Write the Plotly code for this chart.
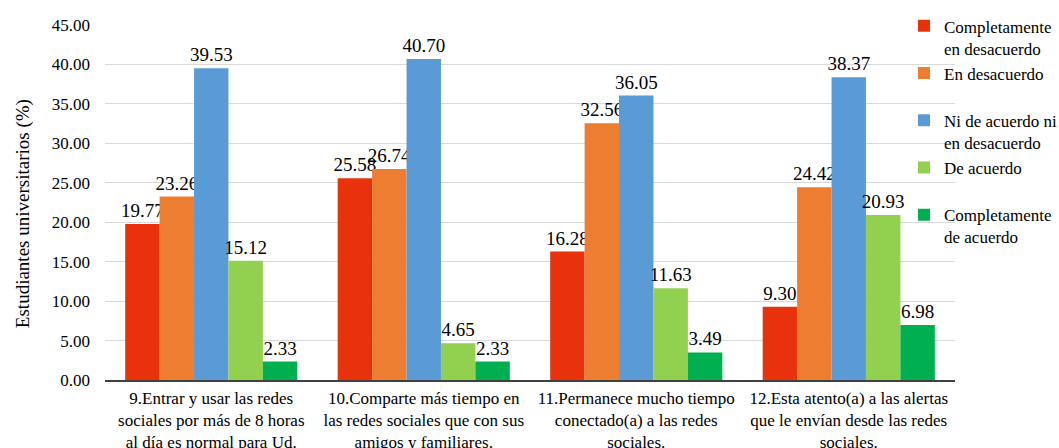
import plotly.graph_objects as go

categories = [
    "9.Entrar y usar las redes<br>sociales por más de 8 horas<br>al día es normal para Ud.",
    "10.Comparte más tiempo en<br>las redes sociales que con sus<br>amigos y familiares.",
    "11.Permanece mucho tiempo<br>conectado(a) a las redes<br>sociales.",
    "12.Esta atento(a) a las alertas<br>que le envían desde las redes<br>sociales.",
]
series_names = [
    "Completamente<br>en desacuerdo",
    "En desacuerdo<br>&nbsp;",
    "Ni de acuerdo ni<br>en desacuerdo",
    "De acuerdo<br>&nbsp;",
    "Completamente<br>de acuerdo",
]
completamente_desacuerdo = [19.77, 25.58, 16.28, 9.30]
en_desacuerdo = [23.26, 26.74, 32.56, 24.42]
ni_ni = [39.53, 40.70, 36.05, 38.37]
de_acuerdo = [15.12, 4.65, 11.63, 20.93]
completamente_acuerdo = [2.33, 2.33, 3.49, 6.98]
tick_vals = [0, 5, 10, 15, 20, 25, 30, 35, 40, 45]

values = [completamente_desacuerdo, en_desacuerdo, ni_ni, de_acuerdo, completamente_acuerdo]
colors = ["#E8320C", "#ED7D31", "#5B9BD5", "#92D050", "#00B050"]

font_family = "Liberation Serif"

fig = go.Figure()
for name, vals, col in zip(series_names, values, colors):
    fig.add_trace(go.Bar(
        x=categories, y=vals, name=name,
        marker=dict(color=col, line=dict(width=0)),
        texttemplate="%{y:.2f}", textposition="outside",
        constraintext="none",
        textfont=dict(size=19, color="#000000", family=font_family),
        cliponaxis=False, legendgroup=name,
    ))

fig.update_layout(
    template="none",
    width=1059, height=448,
    barmode="group", bargap=0.19, bargroupgap=0,
    plot_bgcolor="white", paper_bgcolor="white",
    margin=dict(l=105, r=104, t=25, b=68, autoexpand=False),
    font=dict(family=font_family, color="#000000", size=17),
    showlegend=True,
    legend=dict(
        x=0.940, xanchor="left", y=1.047, yanchor="top",
        font=dict(size=17, family=font_family, color="#000000"),
        tracegroupgap=0, itemwidth=30, valign="top", maxheight=440,
        bgcolor="rgba(0,0,0,0)",
    ),
    annotations=[dict(
        text="Estudiantes universitarios (%)", textangle=-90,
        xref="paper", yref="paper", x=-0.0965, y=0.47, xanchor="center", yanchor="middle",
        showarrow=False, font=dict(size=19, family=font_family, color="#000000"),
    )],
)
fig.update_yaxes(
    range=[0, 45], tickvals=tick_vals,
    tickformat=".2f",
    showgrid=True, gridcolor="#D9D9D9", gridwidth=1,
    zeroline=False, showline=False,
    tickfont=dict(size=17, family=font_family, color="#000000"),
    ticks="", ticklen=0, ticklabelstandoff=14,
)
fig.update_xaxes(
    showline=True, linecolor="#404040", linewidth=1.5,
    tickfont=dict(size=17, family=font_family, color="#000000"),
    ticks="", showgrid=False, ticklabelstandoff=2,
)

fig.write_html(
    "out.html",
    config={"displayModeBar": False},
    post_script="document.body.style.margin='0';document.body.style.overflow='hidden';",
)
